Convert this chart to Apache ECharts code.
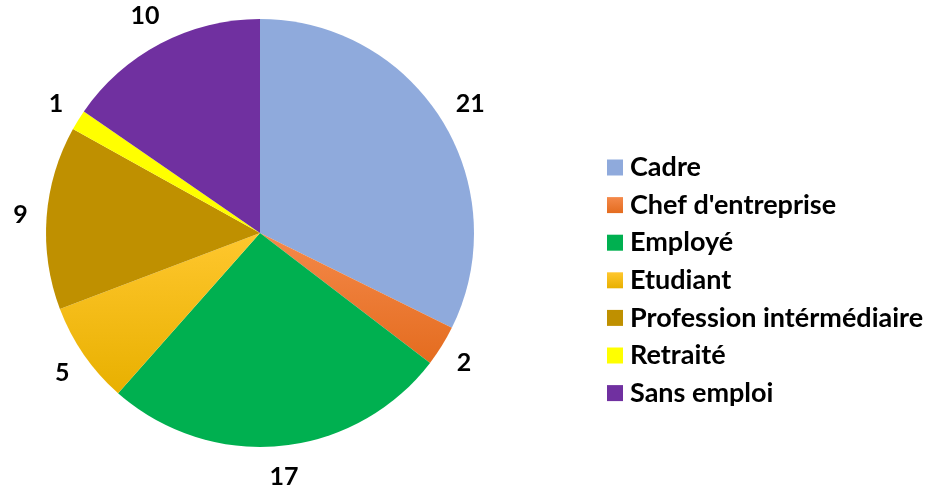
<!DOCTYPE html>
<html>
<head>
<meta charset="utf-8">
<script src="https://cdn.jsdelivr.net/npm/echarts@6/dist/echarts.min.js"></script>
<style>
  html, body { margin: 0; padding: 0; background: #fff; }
  #main { width: 943px; height: 490px; }
</style>
</head>
<body>
<div id="main"></div>
<script>
// categories and values
var categories = ["Cadre", "Chef d'entreprise", "Employé", "Etudiant", "Profession intérmédiaire", "Retraité", "Sans emploi"];
var values = [21, 2, 17, 5, 9, 1, 10];
var colors = [
  "#8FAADC",
  new echarts.graphic.LinearGradient(0, 0, 0, 1, [{ offset: 0, color: "#F4894A" }, { offset: 1, color: "#E46C1F" }]),
  "#00B050",
  new echarts.graphic.LinearGradient(0, 0, 0, 1, [{ offset: 0, color: "#FFC72E" }, { offset: 1, color: "#E8B000" }]),
  "#BF9000",
  "#FFFF00",
  "#7030A0"
];

var font = "Lato, 'Open Sans', sans-serif";
var pieCenter = [260, 233];
var pieRadius = 214;
var labelGap = 19;

// mid angle of each slice, clockwise from the top
var total = values.reduce(function (a, b) { return a + b; }, 0);
var midAngles = [];
var acc = 0;
values.forEach(function (v) {
  midAngles.push((acc + v / 2) / total * Math.PI * 2);
  acc += v;
});

var chart = echarts.init(document.getElementById("main"));
chart.setOption({
  animation: false,
  legend: {
    orient: "vertical",
    left: 607,
    top: 154,
    padding: 0,
    itemWidth: 16,
    itemHeight: 16,
    itemGap: 10.6,
    icon: "rect",
    textStyle: { fontFamily: font, fontWeight: "bold", fontSize: 27, lineHeight: 26, color: "#000", padding: [0, 0, 0, 2] },
    data: categories
  },
  series: [
    {
      type: "pie",
      center: pieCenter,
      radius: pieRadius,
      startAngle: 90,
      clockwise: true,
      silent: true,
      label: {
        show: true,
        position: "outside",
        formatter: "{c}",
        fontFamily: font,
        fontWeight: "bold",
        fontSize: 25,
        color: "#000"
      },
      labelLine: { show: false, length: 15, length2: 0 },
      // place each label box just outside the rim, like the office chart does
      labelLayout: function (params) {
        var a = midAngles[params.dataIndex];
        var s = Math.sin(a), c = Math.cos(a);
        var w = params.labelRect.width, h = params.labelRect.height;
        var r = pieRadius + labelGap;
        return {
          x: pieCenter[0] + r * s + w / 2 * s,
          y: pieCenter[1] - r * c - h / 2 * c,
          align: "center",
          verticalAlign: "middle"
        };
      },
      data: categories.map(function (name, i) {
        return { name: name, value: values[i], itemStyle: { color: colors[i] } };
      })
    }
  ]
});
</script>
</body>
</html>
